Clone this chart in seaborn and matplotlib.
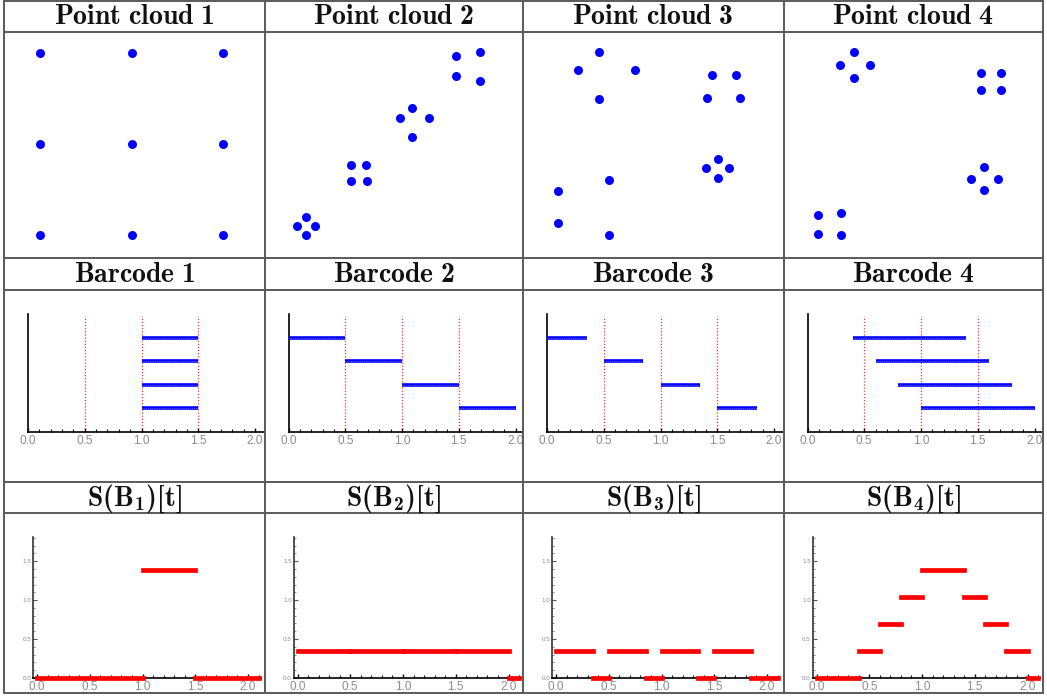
import matplotlib
matplotlib.use("Agg")
import matplotlib.pyplot as plt
from matplotlib.lines import Line2D
from matplotlib.ticker import MultipleLocator, FormatStrFormatter
import pandas as pd
import seaborn as sns

# ---- data ----
cloud_titles = ["Point cloud 1", "Point cloud 2", "Point cloud 3", "Point cloud 4"]
barcode_titles = ["Barcode 1", "Barcode 2", "Barcode 3", "Barcode 4"]
s_titles = ["S(B_1)[t]", "S(B_2)[t]", "S(B_3)[t]", "S(B_4)[t]"]

cloud1_x = [0.0, 1.0, 2.0, 0.0, 1.0, 2.0, 0.0, 1.0, 2.0]
cloud1_y = [0.0, 0.0, 0.0, 1.0, 1.0, 1.0, 2.0, 2.0, 2.0]

cloud2_x = [0.06, -0.04, 0.16, 0.06, 0.55, 0.72, 0.55, 0.73,
            1.22, 1.09, 1.40, 1.22, 1.70, 1.96, 1.70, 1.96]
cloud2_y = [0.20, 0.10, 0.10, 0.00, 0.77, 0.77, 0.59, 0.59,
            1.40, 1.28, 1.28, 1.08, 1.97, 2.01, 1.75, 1.69]

cloud3_x = [0.44, 0.21, 0.83, 0.44, 1.67, 1.93, 1.62, 1.98,
            1.74, 1.61, 1.86, 1.74, 0.55, -0.01, -0.01, 0.55]
cloud3_y = [2.01, 1.81, 1.81, 1.49, 1.76, 1.76, 1.50, 1.50,
            0.84, 0.74, 0.74, 0.63, 0.61, 0.48, 0.13, 0.00]

cloud4_x = [0.38, 0.22, 0.55, 0.38, 1.77, 1.98, 1.76, 1.98,
            1.80, 1.66, 1.95, 1.80, -0.02, 0.23, -0.02, 0.23]
cloud4_y = [2.01, 1.87, 1.87, 1.72, 1.78, 1.78, 1.59, 1.59,
            0.75, 0.62, 0.62, 0.49, 0.22, 0.24, 0.01, 0.00]

# barcodes, listed top bar first
bar1_birth = [1.0, 1.0, 1.0, 1.0]
bar1_death = [1.5, 1.5, 1.5, 1.5]
bar2_birth = [0.0, 0.5, 1.0, 1.5]
bar2_death = [0.5, 1.0, 1.5, 2.0]
bar3_birth = [0.0, 0.5, 1.0, 1.5]
bar3_death = [0.35, 0.85, 1.35, 1.85]
bar4_birth = [0.4, 0.6, 0.8, 1.0]
bar4_death = [1.4, 1.6, 1.8, 2.0]

# step functions S(B)[t]: segment start, end, value
s1_start = [0.0, 1.0, 1.5]
s1_end = [1.0, 1.5, 2.1]
s1_value = [0.0, 1.39, 0.0]
s2_start = [0.0, 0.5, 1.0, 1.5, 2.0]
s2_end = [0.5, 1.0, 1.5, 2.0, 2.1]
s2_value = [0.35, 0.35, 0.35, 0.35, 0.0]
s3_start = [0.0, 0.35, 0.5, 0.85, 1.0, 1.35, 1.5, 1.85]
s3_end = [0.35, 0.5, 0.85, 1.0, 1.35, 1.5, 1.85, 2.1]
s3_value = [0.35, 0.0, 0.35, 0.0, 0.35, 0.0, 0.35, 0.0]
s4_start = [0.0, 0.4, 0.6, 0.8, 1.0, 1.4, 1.6, 1.8, 2.0]
s4_end = [0.4, 0.6, 0.8, 1.0, 1.4, 1.6, 1.8, 2.0, 2.1]
s4_value = [0.0, 0.35, 0.69, 1.04, 1.39, 1.04, 0.69, 0.35, 0.0]

clouds = [(cloud1_x, cloud1_y), (cloud2_x, cloud2_y), (cloud3_x, cloud3_y), (cloud4_x, cloud4_y)]
barcodes = [(bar1_birth, bar1_death), (bar2_birth, bar2_death),
            (bar3_birth, bar3_death), (bar4_birth, bar4_death)]
steps = [(s1_start, s1_end, s1_value), (s2_start, s2_end, s2_value),
         (s3_start, s3_end, s3_value), (s4_start, s4_end, s4_value)]

# ---- layout (pixels) ----
W, H = 1047, 697
col_x = [4, 264.5, 523, 783.5, 1043]
row_y = [1, 32, 258, 290, 482, 513, 693]
BLUE = "#0000ff"
RED = "#ff0000"
TICK_GRAY = "#8c8c8c"

sns.set_style("white")
# bold Computer Modern for the header cells
plt.rcParams["mathtext.fontset"] = "custom"
plt.rcParams["mathtext.rm"] = "cmb10"
plt.rcParams["mathtext.it"] = "cmb10"
plt.rcParams["mathtext.bf"] = "cmb10"
plt.rcParams["font.family"] = ["Liberation Sans", "DejaVu Sans"]

fig = plt.figure(figsize=(W / 100, H / 100), dpi=100)


def add_px_axes(left, top, width, height):
    return fig.add_axes([left / W, 1 - (top + height) / H, width / W, height / H])


def fx(px):
    return px / W


def fy(py):
    return 1 - py / H


def bold_title(s):
    return r"$\mathrm{%s}$" % s.replace(" ", r"\ ")


# table grid
grid_kw = dict(color="#5a5a5a", lw=1.4, transform=fig.transFigure)
for x in col_x:
    fig.add_artist(Line2D([fx(x), fx(x)], [fy(row_y[0]), fy(row_y[-1])], **grid_kw))
for y in row_y:
    fig.add_artist(Line2D([fx(col_x[0]), fx(col_x[-1])], [fy(y), fy(y)], **grid_kw))

title_size = 20
for c in range(4):
    cx = fx((col_x[c] + col_x[c + 1]) / 2)
    fig.text(cx, fy((row_y[0] + row_y[1]) / 2 + 1), bold_title(cloud_titles[c]),
             ha="center", va="center", fontsize=title_size, color="#111111")
    fig.text(cx, fy((row_y[2] + row_y[3]) / 2 + 1), bold_title(barcode_titles[c]),
             ha="center", va="center", fontsize=title_size, color="#111111")
    fig.text(cx, fy((row_y[4] + row_y[5]) / 2 + 1), bold_title(s_titles[c]),
             ha="center", va="center", fontsize=title_size, color="#111111")

for c in range(4):
    L, R = col_x[c], col_x[c + 1]

    # --- point cloud ---
    unit = 91.5
    ax = add_px_axes(L + 1, row_y[1] + 1, R - L - 2, row_y[2] - row_y[1] - 2)
    xs, ys = clouds[c]
    df = pd.DataFrame({"x": xs, "y": ys})
    sns.scatterplot(data=df, x="x", y="y", ax=ax, color=BLUE, s=42, linewidth=0)
    x_left = -35 / unit
    ax.set_xlim(x_left, x_left + (R - L - 2) / unit)
    ax.set_ylim(-(258 - 236) / unit, (236 - 33) / unit)
    ax.axis("off")

    # --- barcode ---
    unit = 113.5
    bl = L + 24
    ax = add_px_axes(bl, 314, R - bl, 118)
    births, deaths = barcodes[c]
    n = len(births)
    levels = list(range(n, 0, -1))
    ax.vlines([0.5, 1.0, 1.5], 0, 4.93, colors=RED, linestyles=(0, (1, 1.5)), lw=0.9, alpha=0.8, zorder=1)
    for b, d, lv in zip(births, deaths, levels):
        ax.plot([b, d], [lv, lv], color=BLUE, lw=2.6, solid_capstyle="butt", zorder=3)
        ax.plot([b, d], [lv, lv], color="#7070ff", lw=0.6, ls=(0, (1, 1.2)), zorder=4)
    ax.set_xlim(0, (R - bl) / unit)
    ax.set_ylim(0, 5)
    ax.set_yticks([])
    ax.xaxis.set_major_locator(MultipleLocator(0.5))
    ax.xaxis.set_minor_locator(MultipleLocator(0.1))
    ax.xaxis.set_major_formatter(FormatStrFormatter("%.1f"))
    ax.tick_params(axis="x", which="major", direction="in", length=3, width=1, color="black",
                   labelsize=8.5, labelcolor=TICK_GRAY, pad=2.5, bottom=True)
    ax.tick_params(axis="x", which="minor", direction="in", length=2, width=0.8, color="black", bottom=True)
    for side in ["top", "right"]:
        ax.spines[side].set_visible(False)
    for side in ["left", "bottom"]:
        ax.spines[side].set_color("black")
        ax.spines[side].set_linewidth(1.2)
    ax.patch.set_alpha(0)

    # --- step function S(B)[t] ---
    unit_x = 105.5
    x_min = -0.035
    sl = L + 33 + x_min * unit_x
    ax = add_px_axes(sl, 537, (2.12 - x_min) * unit_x, 141)
    starts, ends, vals = steps[c]
    for a, b, v in zip(starts, ends, vals):
        ax.plot([a, b], [v, v], color=RED, lw=3.4, solid_capstyle="projecting", zorder=3, clip_on=False)
    ax.set_xlim(x_min, 2.12)
    ax.set_ylim(0, 1.81)
    ax.xaxis.set_major_locator(MultipleLocator(0.5))
    ax.xaxis.set_minor_locator(MultipleLocator(0.1))
    ax.yaxis.set_major_locator(MultipleLocator(0.5))
    ax.yaxis.set_minor_locator(MultipleLocator(0.1))
    ax.xaxis.set_major_formatter(FormatStrFormatter("%.1f"))
    ax.yaxis.set_major_formatter(FormatStrFormatter("%.1f"))
    ax.tick_params(axis="x", which="major", direction="in", length=3, width=1, color="black",
                   labelsize=8.5, labelcolor=TICK_GRAY, pad=2, bottom=True)
    ax.tick_params(axis="x", which="minor", direction="in", length=2, width=0.8, color="black", bottom=True)
    ax.tick_params(axis="y", which="major", direction="in", length=3, width=0.8, color="#555555",
                   labelsize=4.5, labelcolor=TICK_GRAY, pad=1.5, left=True)
    ax.tick_params(axis="y", which="minor", direction="in", length=1.5, width=0.6, color="#777777", left=True)
    for side in ["top", "right"]:
        ax.spines[side].set_visible(False)
    ax.spines["left"].set_color("#333333")
    ax.spines["left"].set_linewidth(1.2)
    ax.spines["bottom"].set_color("black")
    ax.spines["bottom"].set_linewidth(1.2)
    ax.patch.set_alpha(0)

fig.savefig("out.png", dpi=100)
